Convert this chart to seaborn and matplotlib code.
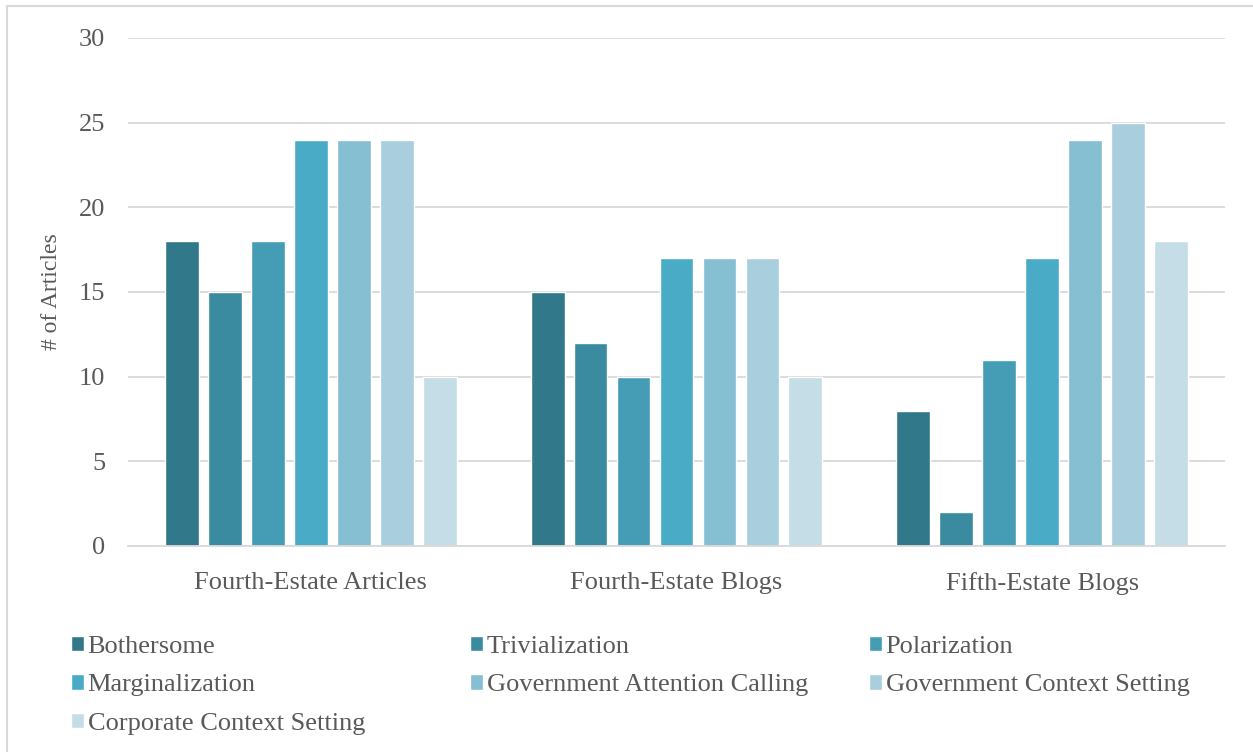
import matplotlib
matplotlib.use("Agg")
import matplotlib.pyplot as plt
from matplotlib.patches import Rectangle
import seaborn as sns
import pandas as pd

# Article counts per framing category and source type
groups = ["Fourth-Estate Articles", "Fourth-Estate Blogs", "Fifth-Estate Blogs"]
frames = [
    "Bothersome",
    "Trivialization",
    "Polarization",
    "Marginalization",
    "Government Attention Calling",
    "Government Context Setting",
    "Corporate Context Setting",
]
bothersome = [18, 15, 8]
trivialization = [15, 12, 2]
polarization = [18, 10, 11]
marginalization = [24, 17, 17]
gov_attention = [24, 17, 24]
gov_context = [24, 17, 25]
corp_context = [10, 10, 18]

colors = ["#31798A", "#3A8BA0", "#459DB5", "#4AABC6", "#86BED2", "#A9CEDD", "#C4DDE6"]
yticks = [0, 5, 10, 15, 20, 25, 30]

series = [bothersome, trivialization, polarization, marginalization,
          gov_attention, gov_context, corp_context]
rows = []
for frame, vals in zip(frames, series):
    for g, v in zip(groups, vals):
        rows.append({"Source": g, "Frame": frame, "Count": v})
df = pd.DataFrame(rows)

sns.set_theme(style="white")
plt.rcParams["font.family"] = ["Liberation Serif", "DejaVu Serif"]
text_color = "#595959"
grid_color = "#D9D9D9"

fig = plt.figure(figsize=(12.53, 7.52), dpi=100)
W, H = 1253, 752
ax = fig.add_axes([128 / W, 1 - 546 / H, (1225 - 128) / W, (546 - 38) / H])

sns.barplot(data=df, x="Source", y="Count", hue="Frame", order=groups,
            hue_order=frames, palette=colors, width=0.823, gap=0.21,
            saturation=1, errorbar=None, ax=ax, legend=True)

ax.set_ylim(0, 30)
ax.set_yticks(yticks)
ax.set_xlim(-0.5, 2.5)
ax.yaxis.grid(True, color=grid_color, linewidth=1.3)
ax.set_axisbelow(True)
for side in ["top", "right", "left"]:
    ax.spines[side].set_visible(False)
ax.spines["bottom"].set_color(grid_color)
ax.spines["bottom"].set_linewidth(1.3)
ax.tick_params(axis="both", length=0, colors=text_color, labelsize=19)
ax.tick_params(axis="y", pad=16.5)
ax.tick_params(axis="x", pad=19)
ax.set_xlabel("")
ax.set_ylabel("# of Articles", color=text_color, fontsize=17, labelpad=12)

handles, labels = ax.get_legend_handles_labels()
ax.get_legend().remove()

# Three legend columns of equal width, filled row by row
col_x = [71, 470, 869]
for c in range(3):
    idx = list(range(c, len(frames), 3))
    leg = fig.legend([handles[i] for i in idx], [labels[i] for i in idx],
                     loc="upper left", bbox_to_anchor=(col_x[c] / W, 1 - 636 / H),
                     frameon=False, fontsize=19, handlelength=0.5,
                     handleheight=0.5, handletextpad=0.13, labelspacing=0.62,
                     borderpad=0, borderaxespad=0, labelcolor=text_color)

# Light chart border
fig.patches.append(Rectangle((7 / W, -0.05), 1.1, 1 - 6 / H + 0.05,
                             transform=fig.transFigure, fill=False,
                             edgecolor=grid_color, linewidth=1.5))

fig.savefig("out.png", dpi=100)
